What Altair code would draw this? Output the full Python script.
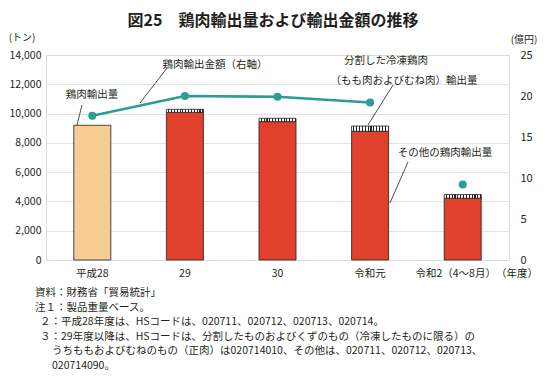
import altair as alt
import pandas as pd

FONT = "Noto Sans CJK JP"
INK = "#231f20"

# ---- data ----
years = ["平成28", "29", "30", "令和元", "令和2（4～8月）"]
other_volume = [9200, 10080, 9450, 8790, 4220]   # bar 1 = total chicken exports
cut_volume = [0, 210, 230, 360, 250]             # 分割した冷凍鶏肉（もも肉およびむね肉）
export_value = [17.6, 20.0, 19.9, 19.2, 9.2]     # 億円 (right axis)
line_connected = [True, True, True, True, False]
left_ticks = [0, 2000, 4000, 6000, 8000, 10000, 12000, 14000]
right_ticks = [0, 5, 10, 15, 20, 25]

notes = [
    "資料：財務省「貿易統計」",
    "注１：製品重量ベース。",
    "２：平成28年度は、HSコードは、020711、020712、020713、020714。",
    "３：29年度以降は、HSコードは、分割したものおよびくずのもの（冷凍したものに限る）の",
    "うちももおよびむねのもの（正肉）は020714010、その他は、020711、020712、020713、",
    "020714090。",
]

rows = []
for i, yr in enumerate(years):
    seg = "total" if i == 0 else "other"
    rows.append({"year": yr, "seg": seg, "y0": 0, "y1": other_volume[i]})
    if cut_volume[i] > 0:
        rows.append({"year": yr, "seg": "cut", "y0": other_volume[i],
                     "y1": other_volume[i] + cut_volume[i]})
bars_df = pd.DataFrame(rows)
line_df = pd.DataFrame({"year": years, "value": export_value, "connected": line_connected})

# layout: plot area origin in page pixels
OX, OY = 46, 55
W, H = 463, 205

xscale = alt.Scale(domain=years, paddingInner=0.6, paddingOuter=0.3)
yscale = alt.Scale(domain=[0, 14000])

x_axis = alt.Axis(labelAngle=0, domain=False, ticks=False, labelPadding=8,
                  labelFont=FONT, labelFontSize=10.5, labelColor=INK,
                  labelOffset={"condition": {"test": "datum.value == '令和2（4～8月）'",
                                             "value": -7}, "value": 0})
x_enc = alt.X("year:N", scale=xscale, sort=years, title=None, axis=x_axis)

left_axis = alt.Axis(values=left_ticks, format=",.0f", domain=False, ticks=False,
                     labelPadding=5, labelFont=FONT, labelFontSize=10.5,
                     labelColor=INK, grid=True, gridColor="#dcdcdc", gridWidth=0.8)
y_enc = alt.Y("y0:Q", scale=yscale, title=None, axis=left_axis)

base = alt.Chart(bars_df)

orange = base.transform_filter("datum.seg == 'total'").mark_bar(
    fill="#f8cd93", stroke=INK, strokeWidth=0.8
).encode(x=x_enc, y=y_enc, y2="y1:Q")

red = base.transform_filter("datum.seg == 'other'").mark_bar(
    fill="#e1402c", stroke=INK, strokeWidth=0.8
).encode(x=x_enc, y=y_enc, y2="y1:Q")

stops = []
n = 13
for i in range(n):
    a, b, c = i / n, (i + 0.62) / n, (i + 1) / n
    stops += [{"offset": a, "color": "white"}, {"offset": b, "color": "white"},
              {"offset": b, "color": "#222222"}, {"offset": c, "color": "#222222"}]
hatch = {"gradient": "linear", "x1": 0, "x2": 1, "y1": 0, "y2": 0, "stops": stops}

cut = base.transform_filter("datum.seg == 'cut'").mark_bar(
    fill=hatch, stroke=INK, strokeWidth=0.8
).encode(x=x_enc, y=y_enc, y2="y1:Q")

one = pd.DataFrame({"k": [0]})


def label(text, px, py, size=10.5, weight="normal", align="center"):
    """px, py are page pixel positions of the reference; converted to plot coords."""
    return alt.Chart(one).mark_text(
        text=text, font=FONT, fontSize=size, fontWeight=weight, color=INK,
        align=align, baseline="middle"
    ).encode(x=alt.value(px - OX), y=alt.value(py - OY))


def leader(x1, y1, x2, y2):
    return alt.Chart(one).mark_rule(color=INK, strokeWidth=0.8).encode(
        x=alt.value(x1 - OX), y=alt.value(y1 - OY),
        x2=alt.value(x2 - OX), y2=alt.value(y2 - OY))


texts = [
    label("図25　鶏肉輸出量および輸出金額の推移", 273, 20.5, size=16, weight="bold"),
    label("(トン)", 22, 38, size=10),
    label("(億円)", 524, 40, size=10),
    label("鶏肉輸出量", 92, 95),
    leader(82, 105, 77, 125),
    label("鶏肉輸出金額（右軸）", 215, 65),
    leader(167, 68, 140, 103),
    label("分割した冷凍鶏肉", 386, 61),
    label("（もも肉およびむね肉）輸出量", 404, 81),
    leader(393, 85, 368, 125),
    label("その他の鶏肉輸出量", 445, 153),
    leader(408, 162, 390, 203),
    label("（年度）", 517, 274, size=10.5),
]

note_x = [35, 35, 40, 40, 52, 52]
note_y = [293, 307.5, 322, 336.5, 351, 365.5]
for t, nx, ny in zip(notes, note_x, note_y):
    texts.append(label(t, nx, ny, size=10.5, align="left"))

left_layer = alt.layer(orange, red, cut, *texts)

vscale = alt.Scale(domain=[0, 25])
right_axis = alt.Axis(orient="right", values=right_ticks, domain=False, ticks=False,
                      grid=False, labelPadding=11, labelAlign="left",
                      labelFont=FONT, labelFontSize=11, labelColor=INK)
v_enc = alt.Y("value:Q", scale=vscale, title=None, axis=right_axis)

line = alt.Chart(line_df).transform_filter("datum.connected").mark_line(
    color="#2a9d94", strokeWidth=2.6
).encode(x=x_enc, y=v_enc)
points = alt.Chart(line_df).mark_point(
    filled=True, color="#2a9d94", size=65, opacity=1
).encode(x=x_enc, y=v_enc)
right_layer = alt.layer(line, points)

chart = alt.layer(left_layer, right_layer).resolve_scale(y="independent").properties(
    width=W, height=H,
    padding={"left": OX - 8, "top": OY - 8, "right": 544 - (OX - 8) - W, "bottom": 363 - (OY - 8) - H},
    autosize=alt.AutoSizeParams(type="none"),
).configure_view(stroke=None).configure(background="white")

chart.save("out.html", embed_options={"renderer": "svg", "actions": False})
